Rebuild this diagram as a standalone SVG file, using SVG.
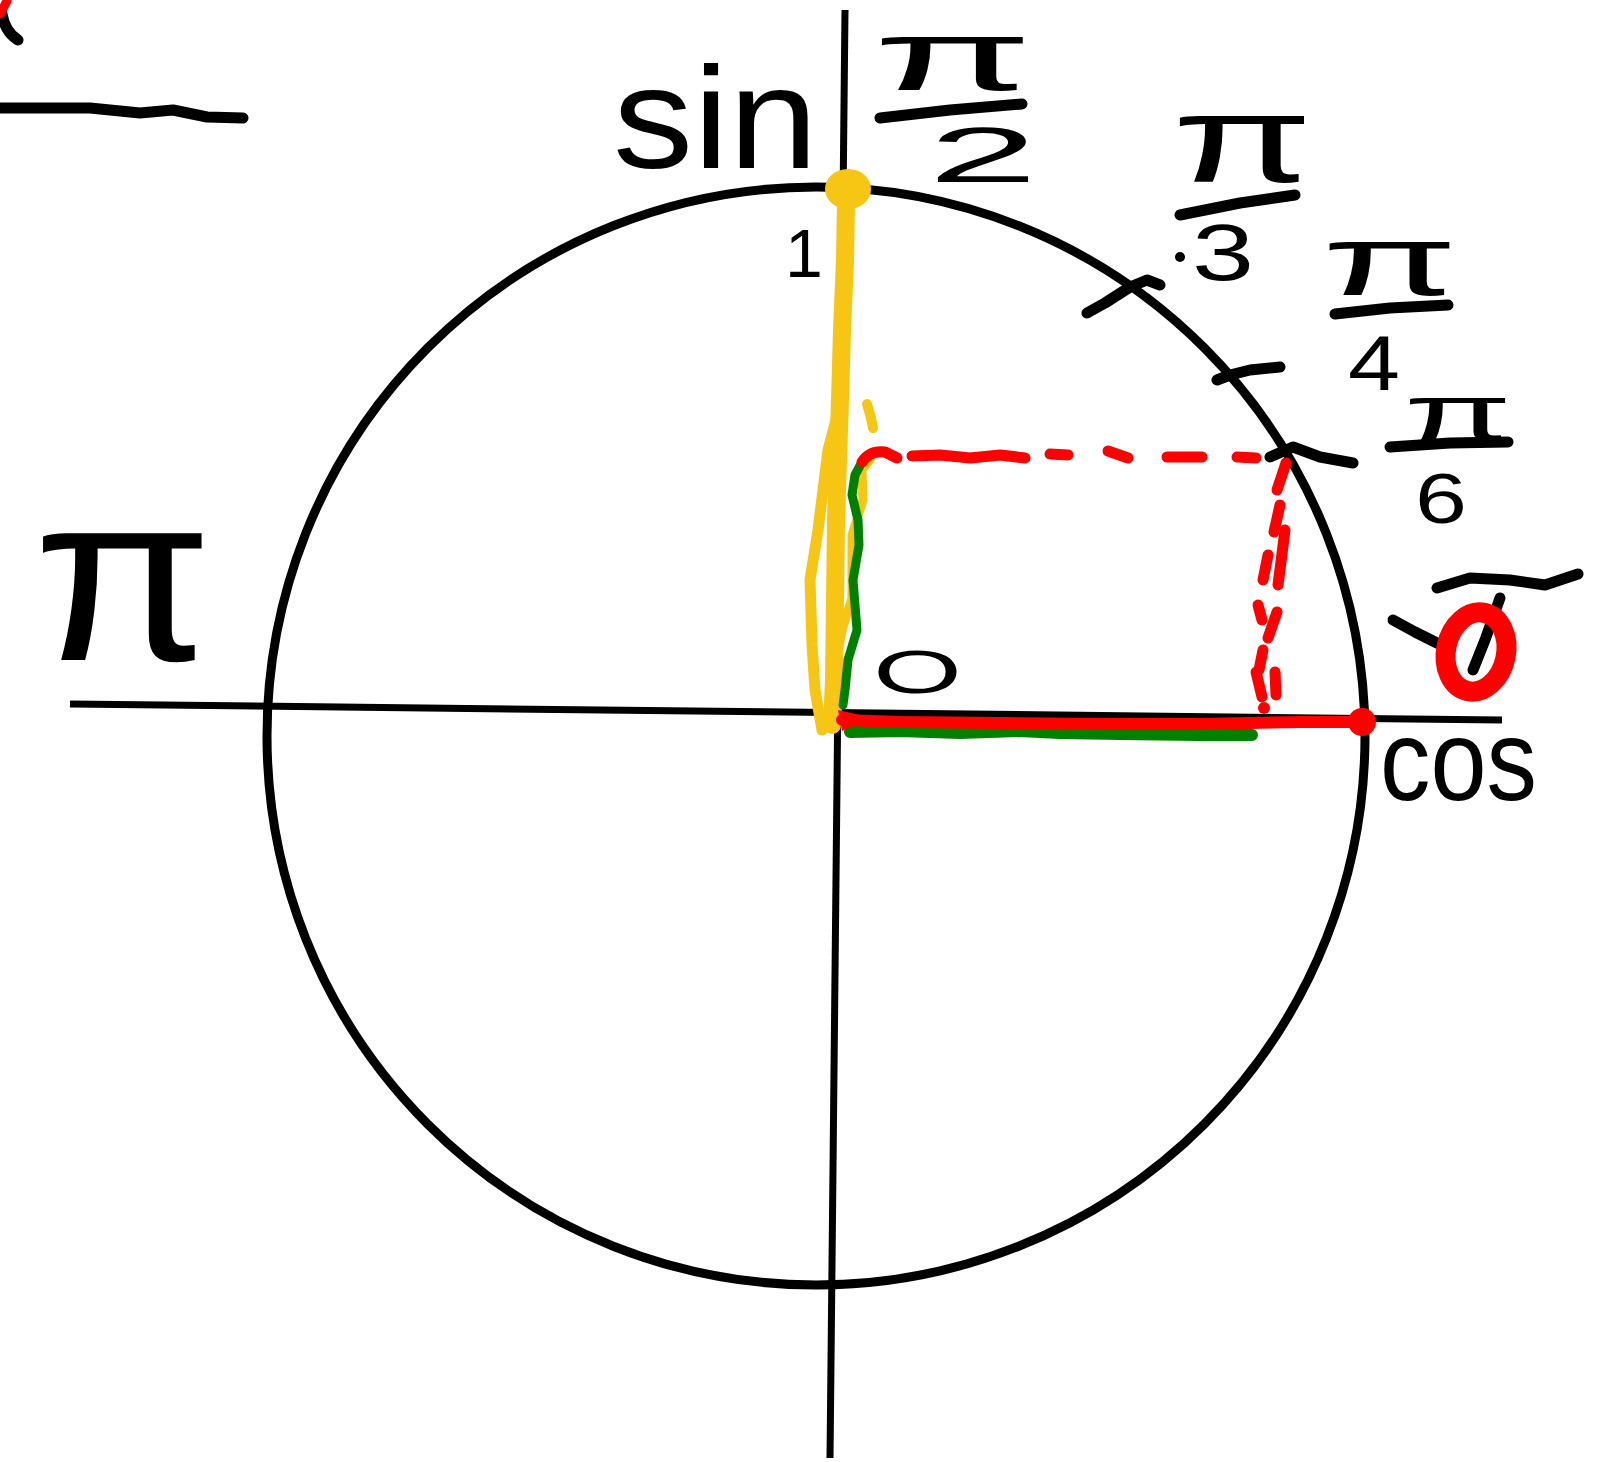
<svg xmlns="http://www.w3.org/2000/svg" width="1624" height="1462" viewBox="0 0 1624 1462">
<style>
.ink{fill:none;stroke:#000;stroke-width:11;stroke-linecap:round;stroke-linejoin:round}
.axis{fill:none;stroke:#000;stroke-width:7}
.yel{fill:none;stroke:#F7C614;stroke-linecap:round;stroke-linejoin:round}
.grn{fill:none;stroke:#008000;stroke-linecap:round;stroke-linejoin:round}
.red{fill:none;stroke:#FF0000;stroke-linecap:round;stroke-linejoin:round}
text{font-family:"Liberation Sans","DejaVu Sans",sans-serif;fill:#000}
</style>
<rect width="1624" height="1462" fill="#fff"/>
<g id="axes">
<line class="axis" x1="70" y1="704" x2="1502" y2="720"/>
<line class="axis" x1="845" y1="10" x2="830" y2="1458"/>
</g>
<g id="unit-circle">
<circle cx="816" cy="736" r="549" fill="none" stroke="#000" stroke-width="9"/>
</g>
<g id="ticks">
<path class="ink" d="M1087,313 L1105,303 L1130,287 L1147,280 L1160,285"/>
<path class="ink" d="M1217,380 L1230,375 L1250,370 L1280,367"/>
<path class="ink" d="M1270,457 L1293,447 L1320,457 L1353,463"/>
<path class="ink" d="M1393,620 L1415,632 L1437,643"/>
<circle cx="1180" cy="257" r="5" fill="#000"/>
</g>
<g id="top-left-fragment">
<path class="ink" d="M0,108 L90,108 L140,113 L173,110 L207,117 L243,118"/>
<path class="ink" d="M18,40 Q5,32 2,14"/>
<path class="red" stroke-width="9" d="M0,14 L7,1"/>
</g>
<g id="labels">
<text x="613" y="168" font-size="145" textLength="205" lengthAdjust="spacingAndGlyphs">sin</text>
<g id="label-pi-2">
<text><tspan x="873" y="90" font-size="100" textLength="160" lengthAdjust="spacingAndGlyphs">π</tspan><tspan x="928" y="182" font-size="78" textLength="110" lengthAdjust="spacingAndGlyphs">2</tspan></text>
<path class="ink" d="M880,118 L950,110 L1022,104"/>
</g>
<g id="label-pi-3">
<text><tspan x="1172" y="182" font-size="125" textLength="141" lengthAdjust="spacingAndGlyphs">π</tspan><tspan x="1192" y="280" font-size="80" textLength="62" lengthAdjust="spacingAndGlyphs">3</tspan></text>
<path class="ink" d="M1180,215 L1240,203 L1295,195"/>
</g>
<g id="label-pi-4">
<text><tspan x="1322" y="295" font-size="100" textLength="136" lengthAdjust="spacingAndGlyphs">π</tspan><tspan x="1348" y="390" font-size="78" textLength="52" lengthAdjust="spacingAndGlyphs">4</tspan></text>
<path class="ink" d="M1335,314 L1390,308 L1448,305"/>
</g>
<g id="label-pi-6">
<text><tspan x="1404" y="440" font-size="80" textLength="108" lengthAdjust="spacingAndGlyphs">π</tspan><tspan x="1415" y="523" font-size="70" textLength="52" lengthAdjust="spacingAndGlyphs">6</tspan></text>
<path class="ink" d="M1390,447 L1450,443 L1508,442"/>
</g>
<g id="label-pi">
<text x="33" y="660" font-size="240" textLength="180" lengthAdjust="spacingAndGlyphs">π</text>
</g>
<g id="label-zero">
<path class="ink" d="M1437,588 L1470,578 L1510,580 L1545,585 L1578,574"/>
<path class="ink" d="M1500,598 L1485,640 L1473,670"/>
<ellipse cx="1476" cy="652" rx="30" ry="40" transform="rotate(12 1476 652)" fill="none" stroke="#FF0000" stroke-width="20"/>
</g>
<text x="1380" y="800" font-size="115" textLength="157" lengthAdjust="spacingAndGlyphs">cos</text>
<text x="873" y="693" font-size="62" textLength="89" lengthAdjust="spacingAndGlyphs">O</text>
<text x="785" y="277" font-size="68">1</text>
</g>
<g id="sin-segment">
<ellipse cx="848" cy="189" rx="23" ry="20" fill="#F7C614"/>
<path class="yel" stroke-width="18" d="M846,200 L845,260 L842,330 L840,400 L838,460 L836,520 L835,600 L834,680 L832,725"/>
<path class="yel" stroke-width="11" d="M836,420 L828,450 L818,530 L810,580 L812,645 L815,690 L822,730"/>
<path class="yel" stroke-width="9" d="M870,460 L862,470 L863,500 L852,535 L852,598 L843,627 L838,650 L835,700"/>
<path class="yel" stroke-width="10" d="M867,404 L871,418 L873,428"/>
</g>
<g id="cos-segment">
<path class="grn" stroke-width="9" d="M862,462 L855,475 L852,495 L858,520 L859,545 L853,580 L857,630 L848,660 L845,690 L843,705"/>
<path class="grn" stroke-width="12" d="M850,732 L900,731 L960,733 L1020,731 L1060,733 L1120,734 L1200,735 L1252,735"/>
</g>
<g id="projection">
<path d="M838,710 L872,718 L842,731 Z" fill="#FF0000"/>
<path class="red" stroke-width="12" d="M842,720 L900,722 L1000,723 L1100,724 L1200,724 L1300,722 L1362,722"/>
<circle cx="1362" cy="722" r="14" fill="#FF0000"/>
<g class="red" stroke-width="11">
<path d="M862,462 Q870,450 885,452 L897,458"/>
<path d="M912,456 L940,455 L970,458 L1000,455 L1025,458"/>
<path d="M1050,454 L1068,455"/>
<path d="M1108,451 L1128,458"/>
<path d="M1167,457 L1202,457"/>
<path d="M1237,457 L1256,458"/>
<path d="M1286,463 L1277,490"/>
<path d="M1280,505 L1274,532"/>
<path d="M1285,530 L1278,585"/>
<path d="M1263,580 L1268,555"/>
<path d="M1258,605 L1262,620"/>
<path d="M1277,612 L1268,638"/>
<path d="M1263,650 L1259,670"/>
<path d="M1256,672 L1262,697"/>
<path d="M1275,672 L1276,695"/>
</g>
<circle cx="1264" cy="708" r="6" fill="#FF0000"/>
</g>
</svg>
